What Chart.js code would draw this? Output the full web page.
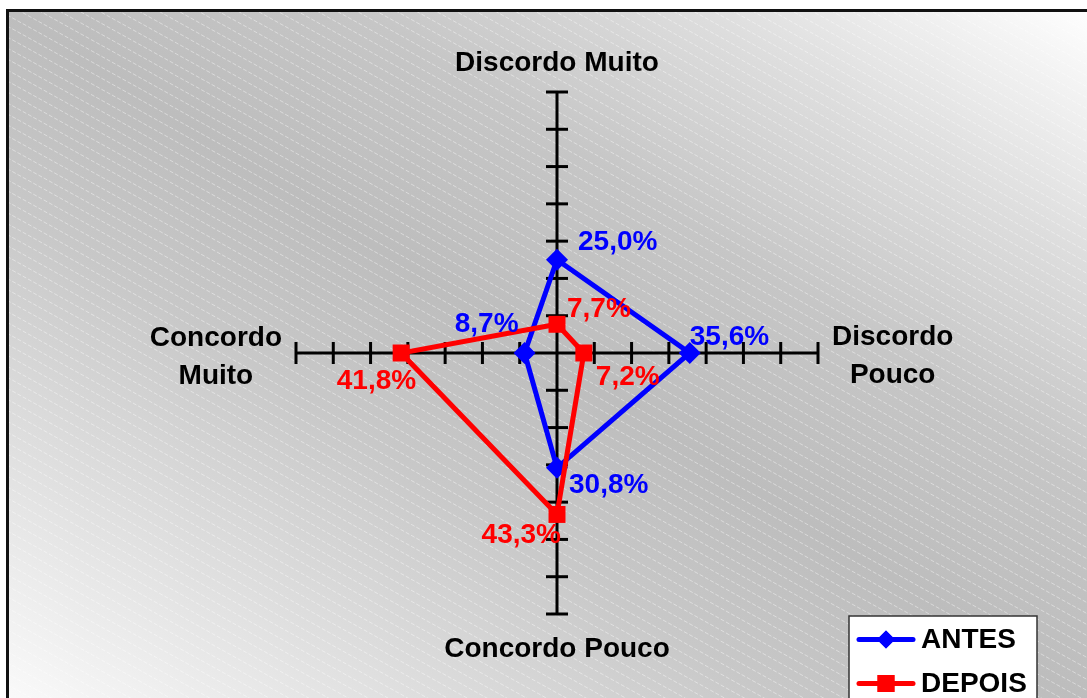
<!DOCTYPE html>
<html>
<head>
<meta charset="utf-8">
<title>ANTES x DEPOIS</title>
<script src="https://cdn.jsdelivr.net/npm/chart.js@4.4.1/dist/chart.umd.min.js"></script>
<style>
  html, body { margin: 0; padding: 0; background: #fff; overflow: hidden; }
  #chart { position: absolute; left: 0; top: 0; }
</style>
</head>
<body>
<canvas id="chart" width="1087" height="698"></canvas>
<script>
// categories clockwise from the top
const categories = ['Discordo Muito', ['Discordo', 'Pouco'], 'Concordo Pouco', ['Concordo', 'Muito']];
const antes = [25.0, 35.6, 30.8, 8.7];
const depois = [7.7, 7.2, 43.3, 41.8];
const scaleMax = 70;
const tickStep = 10;

// where each value label sits relative to its point: [dx, dy, align]
const antesLabelPos = [[21, -18, 'left'], [0, -16, 'left'], [12, 17, 'left'], [-6, -29, 'right']];
const depoisLabelPos = [[10, -15, 'left'], [12, 24, 'left'], [4, 21, 'right'], [15, 28, 'right']];

const FONT = '"Liberation Sans", Arial, sans-serif';

function fmt(v) {
  return v.toFixed(1).replace('.', ',') + '%';
}

// grey diagonal gradient with faint white hatching, framed top and left
const panel = {
  id: 'panel',
  beforeDraw(chart) {
    const ctx = chart.ctx;
    const bx = 7, by = 10, W = 1090, H = 700;
    ctx.save();
    // gradient runs from the top-right corner to the bottom-left one
    const gx = -1 / (2 * W), gy = 1 / (2 * H);
    const g2 = gx * gx + gy * gy;
    const dx = gx / g2, dy = gy / g2;
    const cx = bx + W / 2, cy = by + H / 2;
    const grad = ctx.createLinearGradient(cx - dx / 2, cy - dy / 2, cx + dx / 2, cy + dy / 2);
    grad.addColorStop(0, '#ffffff');
    grad.addColorStop(0.18, '#dedede');
    grad.addColorStop(0.34, '#c6c6c6');
    grad.addColorStop(0.5, '#bdbdbd');
    grad.addColorStop(0.64, '#c8c8c8');
    grad.addColorStop(0.8, '#dedede');
    grad.addColorStop(1, '#fbfbfb');
    ctx.fillStyle = grad;
    ctx.fillRect(bx, by, W, H);

    ctx.beginPath();
    ctx.rect(bx, by, W, H);
    ctx.clip();
    ctx.strokeStyle = 'rgba(255,255,255,0.42)';
    ctx.lineWidth = 1;
    ctx.setLineDash([4, 2]);
    const slope = Math.tan(29 * Math.PI / 180);
    const step = 9.6 / Math.cos(29 * Math.PI / 180);
    for (let b = by - slope * 1100; b < by + H; b += step) {
      ctx.beginPath();
      ctx.moveTo(bx, b);
      ctx.lineTo(bx + 1100, b + slope * 1100);
      ctx.stroke();
    }
    ctx.restore();

    ctx.save();
    ctx.fillStyle = '#111';
    ctx.fillRect(6, 9, 3, 700);
    ctx.fillRect(6, 9, 1090, 3);
    ctx.restore();
  }
};

// cross ticks along every axis
const axisTicks = {
  id: 'axisTicks',
  beforeDatasetsDraw(chart) {
    const r = chart.scales.r;
    const ctx = chart.ctx;
    ctx.save();
    ctx.strokeStyle = '#000';
    ctx.lineWidth = 3;
    for (let i = 0; i < categories.length; i++) {
      const a = r.getIndexAngle(i) - Math.PI / 2;
      const px = -Math.sin(a), py = Math.cos(a);
      for (let v = tickStep; v <= scaleMax; v += tickStep) {
        const p = r.getPointPositionForValue(i, v);
        ctx.beginPath();
        ctx.moveTo(p.x - px * 11, p.y - py * 11);
        ctx.lineTo(p.x + px * 11, p.y + py * 11);
        ctx.stroke();
      }
    }
    ctx.restore();
  }
};

// category names around the axes
const axisNames = {
  id: 'axisNames',
  afterDraw(chart) {
    const r = chart.scales.r;
    const ctx = chart.ctx;
    ctx.save();
    ctx.font = 'bold 28px ' + FONT;
    ctx.fillStyle = '#000';
    ctx.textAlign = 'center';
    ctx.textBaseline = 'middle';
    const lineH = 38;
    categories.forEach((lab, i) => {
      const lines = Array.isArray(lab) ? lab : [lab];
      const w = Math.max(...lines.map(l => ctx.measureText(l).width));
      const h = lines.length * lineH;
      const p = r.getPointPosition(i, r.drawingArea + 14);
      let cx = p.x, cy = p.y;
      if (i === 0) cy = p.y - 15;
      if (i === 2) cy = p.y + 21;
      if (i === 1) { cx = p.x + w / 2; cy = p.y + 3; }
      if (i === 3) { cx = p.x - w / 2; cy = p.y + 4; }
      lines.forEach((l, k) => {
        ctx.fillText(l, cx, cy - h / 2 + lineH / 2 + k * lineH);
      });
    });
    ctx.restore();
  }
};

// value labels next to the points
const valueLabels = {
  id: 'valueLabels',
  afterDatasetsDraw(chart) {
    const ctx = chart.ctx;
    const placements = [antesLabelPos, depoisLabelPos];
    ctx.save();
    ctx.font = 'bold 28px ' + FONT;
    ctx.textBaseline = 'middle';
    chart.data.datasets.forEach((ds, di) => {
      const meta = chart.getDatasetMeta(di);
      meta.data.forEach((pt, i) => {
        const [dx, dy, align] = placements[di][i];
        ctx.fillStyle = ds.borderColor;
        ctx.textAlign = align;
        ctx.fillText(fmt(ds.data[i]), pt.x + dx, pt.y + dy);
      });
    });
    ctx.restore();
  }
};

// boxed legend at the bottom right
const boxLegend = {
  id: 'boxLegend',
  afterDraw(chart) {
    const ctx = chart.ctx;
    const x = 849, y = 616, w = 188, h = 100;
    ctx.save();
    ctx.fillStyle = '#fff';
    ctx.fillRect(x, y, w, h);
    ctx.strokeStyle = '#333';
    ctx.lineWidth = 1.5;
    ctx.strokeRect(x, y, w, h);
    chart.data.datasets.forEach((ds, di) => {
      const cy = 639.5 + di * 44;
      ctx.strokeStyle = ds.borderColor;
      ctx.lineWidth = 5;
      ctx.lineCap = 'round';
      ctx.beginPath();
      ctx.moveTo(859, cy);
      ctx.lineTo(913, cy);
      ctx.stroke();
      ctx.fillStyle = ds.borderColor;
      Chart.helpers.drawPoint(ctx, { pointStyle: ds.pointStyle, radius: di === 0 ? 9 : 12, rotation: 0, borderWidth: 0 }, 886, cy);
      ctx.fill();
      ctx.fillStyle = '#000';
      ctx.font = 'bold 28px ' + FONT;
      ctx.textAlign = 'left';
      ctx.textBaseline = 'middle';
      ctx.fillText(ds.label, 921, cy + 1);
    });
    ctx.restore();
  }
};

new Chart(document.getElementById('chart'), {
  type: 'radar',
  data: {
    labels: categories,
    datasets: [
      {
        label: 'ANTES',
        data: antes,
        borderColor: '#0000ff',
        backgroundColor: '#0000ff',
        borderWidth: 5,
        fill: false,
        pointStyle: 'rectRot',
        pointRadius: 11,
        pointBorderWidth: 0,
        pointBackgroundColor: '#0000ff',
        order: 1
      },
      {
        label: 'DEPOIS',
        data: depois,
        borderColor: '#ff0000',
        backgroundColor: '#ff0000',
        borderWidth: 5,
        fill: false,
        pointStyle: 'rect',
        pointRadius: 12,
        pointBorderWidth: 0,
        pointBackgroundColor: '#ff0000',
        order: 0
      }
    ]
  },
  options: {
    responsive: false,
    animation: false,
    layout: { padding: { top: 92, bottom: 84, left: 100, right: 73 } },
    elements: { line: { tension: 0 } },
    scales: {
      r: {
        min: 0,
        max: scaleMax,
        ticks: { display: false, stepSize: tickStep },
        grid: { display: false },
        angleLines: { display: true, color: '#000', lineWidth: 3 },
        pointLabels: { display: false }
      }
    },
    plugins: {
      legend: { display: false },
      tooltip: { enabled: false }
    },
    events: []
  },
  plugins: [panel, axisTicks, axisNames, valueLabels, boxLegend]
});
</script>
</body>
</html>
